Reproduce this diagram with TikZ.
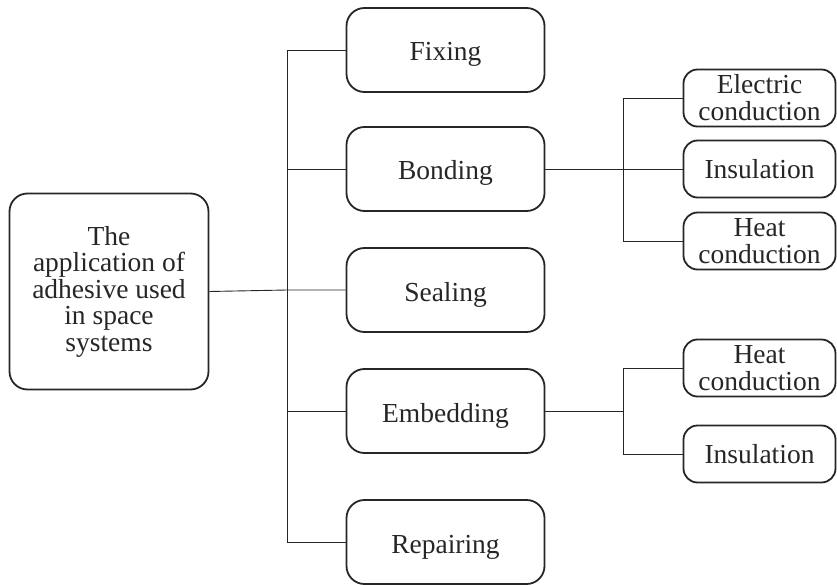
\documentclass[tikz,border=0pt]{standalone}
\usepackage{fontspec}
\setmainfont{Liberation Serif}
\begin{document}
\begin{tikzpicture}[x=1pt,y=-1pt,
  box/.style={draw=black!85, line width=1.8pt, rounded corners=18pt, align=center,
    inner sep=0pt, font=\fontsize{27.5}{26.5}\selectfont, text=black!85},
  midbox/.style={box, minimum width=198pt, minimum height=84pt, text height=22pt, text depth=0pt},
  smallbox/.style={box, rounded corners=14pt, minimum width=152pt, minimum height=57pt,
    font=\fontsize{27.5}{27}\selectfont},
  conn/.style={draw=black!85, line width=0.9pt}]
\useasboundingbox (0,0) rectangle (837,585);
\node[box, minimum width=199pt, minimum height=196pt] (main) at (109,291.5)
  {The\\application of\\adhesive used\\in space\\systems};
\node[midbox] (fix) at (445.5,50) {Fixing};
\node[midbox] (bond) at (445.5,169) {Bonding};
\node[midbox] (seal) at (445.5,290) {Sealing};
\node[midbox] (emb) at (445.5,411) {Embedding};
\node[midbox] (rep) at (445.5,542) {Repairing};
\node[smallbox] (ec) at (759.5,98) {Electric\\conduction};
\node[smallbox] (ins1) at (759.5,169) {Insulation};
\node[smallbox] (hc1) at (759.5,241) {Heat\\conduction};
\node[smallbox] (hc2) at (759.5,368) {Heat\\conduction};
\node[smallbox] (ins2) at (759.5,454) {Insulation};
\coordinate (bus) at (287,0);
\coordinate (bus2) at (623,0);
\draw[conn] (main.east) -- (bus |- seal.west) -- (seal.west);
\draw[conn] (fix.west) -| (bus |- rep.west) -- (rep.west);
\draw[conn] (bond.west) -- (bus |- bond.west);
\draw[conn] (emb.west) -- (bus |- emb.west);
\draw[conn] (bond.east) -- (ins1.west);
\draw[conn] (ec.west) -| (bus2 |- hc1.west) -- (hc1.west);
\draw[conn] (emb.east) -- (bus2 |- emb.east);
\draw[conn] (hc2.west) -| (bus2 |- ins2.west) -- (ins2.west);
\end{tikzpicture}
\end{document}
